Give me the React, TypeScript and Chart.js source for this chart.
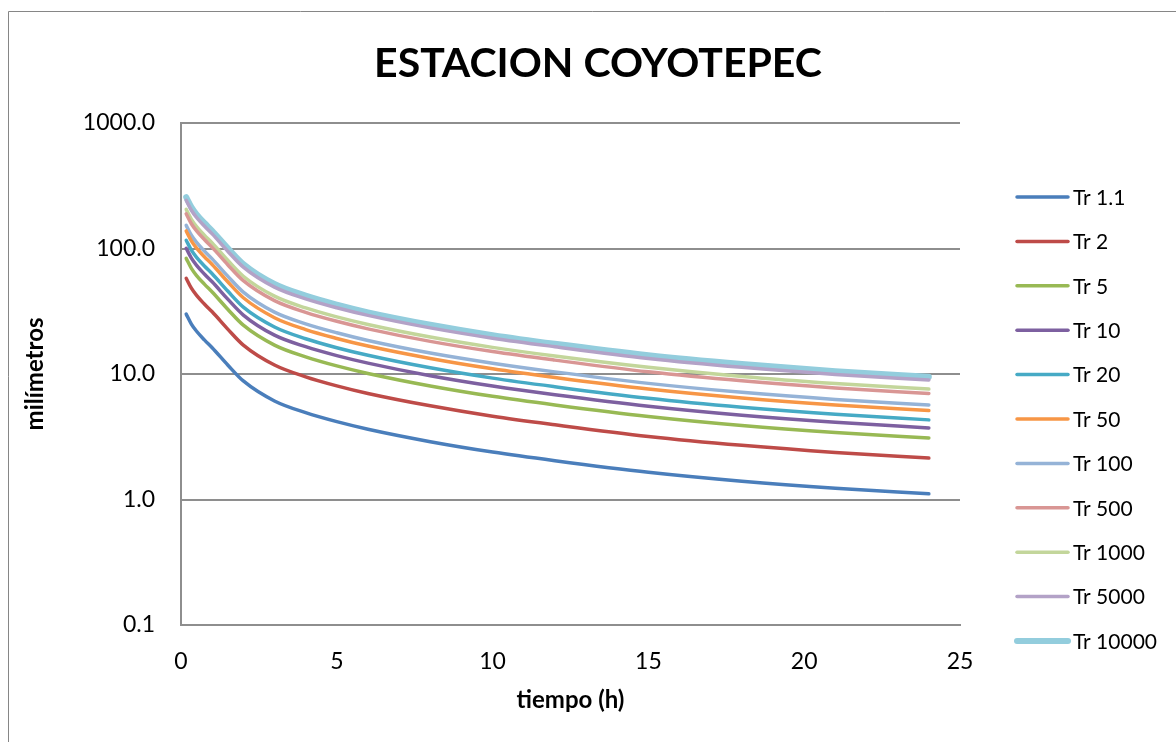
import React, { useEffect, useRef } from "react";
import { Chart, registerables } from "chart.js";

Chart.register(...registerables);

// Duration in hours
const hours = [0.167, 0.333, 0.5, 0.75, 1, 1.5, 2, 3, 4, 5, 6, 8, 10, 12, 15, 18, 21, 24];

// Values in milímetros for each return period
const tr1_1 = [30.0, 25.0, 21.9, 18.7, 16.2, 11.8, 8.8, 6.1, 4.92, 4.17, 3.63, 2.89, 2.39, 2.04, 1.65, 1.40, 1.23, 1.11];
const tr2 = [57.9, 48.3, 42.3, 36.1, 31.3, 22.8, 17.0, 11.8, 9.5, 8.05, 7.0, 5.58, 4.61, 3.94, 3.18, 2.70, 2.37, 2.14];
const tr5 = [83.4, 69.5, 60.9, 52.0, 45.0, 32.8, 24.5, 17.0, 13.7, 11.6, 10.1, 8.03, 6.64, 5.67, 4.59, 3.89, 3.42, 3.09];
const tr10 = [100.5, 83.8, 73.4, 62.6, 54.3, 39.5, 29.5, 20.4, 16.5, 14.0, 12.2, 9.68, 8.01, 6.83, 5.53, 4.69, 4.12, 3.72];
const tr20 = [116.4, 97.0, 85.0, 72.6, 62.9, 45.8, 34.1, 23.7, 19.1, 16.2, 14.1, 11.2, 9.27, 7.92, 6.40, 5.43, 4.77, 4.31];
const tr50 = [138.0, 115.0, 100.7, 86.0, 74.5, 54.3, 40.5, 28.1, 22.6, 19.2, 16.7, 13.3, 11.0, 9.38, 7.59, 6.44, 5.66, 5.11];
const tr100 = [153.0, 127.5, 111.7, 95.4, 82.6, 60.2, 44.9, 31.1, 25.1, 21.3, 18.5, 14.7, 12.2, 10.4, 8.42, 7.14, 6.27, 5.66];
const tr500 = [189.0, 157.5, 138.0, 117.8, 102.1, 74.3, 55.4, 38.4, 31.0, 26.3, 22.9, 18.2, 15.1, 12.9, 10.4, 8.82, 7.75, 6.99];
const tr1000 = [204.9, 170.8, 149.6, 127.7, 110.6, 80.6, 60.1, 41.7, 33.6, 28.5, 24.8, 19.7, 16.3, 13.9, 11.3, 9.56, 8.40, 7.58];
const tr5000 = [242.1, 201.8, 176.7, 150.9, 130.7, 95.2, 71.0, 49.2, 39.7, 33.7, 29.3, 23.3, 19.3, 16.5, 13.3, 11.3, 9.93, 8.96];
const tr10000 = [256.5, 213.8, 187.2, 159.9, 138.5, 100.9, 75.2, 52.2, 42.1, 35.7, 31.0, 24.7, 20.4, 17.4, 14.1, 12.0, 10.5, 9.49];

const seriesNames = ["Tr 1.1", "Tr 2", "Tr 5", "Tr 10", "Tr 20", "Tr 50", "Tr 100", "Tr 500", "Tr 1000", "Tr 5000", "Tr 10000"];
const seriesValues = [tr1_1, tr2, tr5, tr10, tr20, tr50, tr100, tr500, tr1000, tr5000, tr10000];
const seriesColors = ["#4A7EBB", "#BE4B48", "#98B954", "#7D60A0", "#46AAC5", "#F79646", "#95B3D7", "#D99694", "#C3D69B", "#B3A2C7", "#93CDDD"];
const seriesWidths = [3.5, 3.5, 3.5, 3.5, 3.5, 3.5, 3.5, 3.5, 3.5, 3.5, 6];

const yTicks = [0.1, 1, 10, 100, 1000];
const xTicks = [0, 5, 10, 15, 20, 25];

const chartTitle = "ESTACION COYOTEPEC";
const xTitle = "tiempo (h)";
const yTitle = "milímetros";

const FONT = "Lato, 'Open Sans', sans-serif";
const W = 1176;
const H = 742;

const decorPlugin = {
  id: "decor",
  beforeDraw(chart: any) {
    const ctx = chart.ctx;
    ctx.save();
    ctx.fillStyle = "#ffffff";
    ctx.fillRect(0, 0, W, H);
    ctx.strokeStyle = "#868686";
    ctx.lineWidth = 1;
    ctx.beginPath();
    ctx.moveTo(8.5, H);
    ctx.lineTo(8.5, 11.5);
    ctx.lineTo(W, 11.5);
    ctx.stroke();
    ctx.restore();
  },
  afterDraw(chart: any) {
    const ctx = chart.ctx;
    ctx.save();
    // title
    ctx.fillStyle = "#000000";
    ctx.font = `bold 41px ${FONT}`;
    ctx.textAlign = "center";
    ctx.textBaseline = "middle";
    ctx.fillText(chartTitle, 598, 64);
    // legend
    ctx.font = `21px ${FONT}`;
    ctx.textAlign = "left";
    seriesNames.forEach((name, i) => {
      const y = 197 + i * 44.4;
      ctx.strokeStyle = seriesColors[i];
      ctx.lineWidth = seriesWidths[i];
      ctx.lineCap = "round";
      ctx.beginPath();
      ctx.moveTo(1017, y);
      ctx.lineTo(1068, y);
      ctx.stroke();
      ctx.fillStyle = "#000000";
      ctx.fillText(name, 1073, y + 1);
    });
    ctx.restore();
  },
};

export default function App() {
  const ref = useRef<HTMLCanvasElement | null>(null);

  useEffect(() => {
    if (!ref.current) return;
    const datasets = seriesNames.map((name, i) => ({
      label: name,
      data: hours.map((h, j) => ({ x: h, y: seriesValues[i][j] })),
      borderColor: seriesColors[i],
      backgroundColor: seriesColors[i],
      borderWidth: seriesWidths[i],
      pointRadius: 0,
      pointHoverRadius: 0,
      showLine: true,
      fill: false,
      cubicInterpolationMode: "monotone" as const,
      borderCapStyle: "round" as const,
    }));

    const chart = new Chart(ref.current, {
      type: "scatter",
      data: { datasets },
      plugins: [decorPlugin],
      options: {
        responsive: false,
        animation: false,
        layout: { padding: { left: 0, top: 123, right: 216, bottom: 0 } },
        plugins: {
          legend: { display: false },
          title: { display: false },
          tooltip: { enabled: false },
        },
        scales: {
          x: {
            type: "linear",
            min: 0,
            max: 25,
            afterBuildTicks: (scale: any) => {
              scale.ticks = xTicks.map((v) => ({ value: v }));
            },
            afterFit: (scale: any) => {
              scale.height = 117;
            },
            grid: { display: false, drawTicks: false },
            border: { display: true, color: "#8e8e8e", width: 2 },
            ticks: {
              color: "#000000",
              padding: 23,
              font: { family: FONT, size: 23 },
              maxRotation: 0,
            },
            title: {
              display: true,
              text: xTitle,
              color: "#000000",
              font: { family: FONT, size: 24, weight: "bold" },
              padding: { top: 0, bottom: 27 },
            },
          },
          y: {
            type: "logarithmic",
            min: 0.1,
            max: 1000,
            afterBuildTicks: (scale: any) => {
              scale.ticks = yTicks.map((v) => ({ value: v }));
            },
            afterFit: (scale: any) => {
              scale.width = 181;
            },
            grid: { display: true, color: "#8e8e8e", lineWidth: 2, drawTicks: false },
            border: { display: true, color: "#8e8e8e", width: 2 },
            ticks: {
              color: "#000000",
              padding: 26,
              font: { family: FONT, size: 23 },
              callback: (v: any) => Number(v).toFixed(1),
            },
            title: {
              display: true,
              text: yTitle,
              color: "#000000",
              font: { family: FONT, size: 24, weight: "bold" },
              padding: { top: 21, bottom: 0 },
            },
          },
        },
      },
    });
    return () => chart.destroy();
  }, []);

  return (
    <canvas
      ref={ref}
      width={W}
      height={H}
      style={{ position: "fixed", left: 0, top: 0, width: W, height: H }}
    />
  );
}
